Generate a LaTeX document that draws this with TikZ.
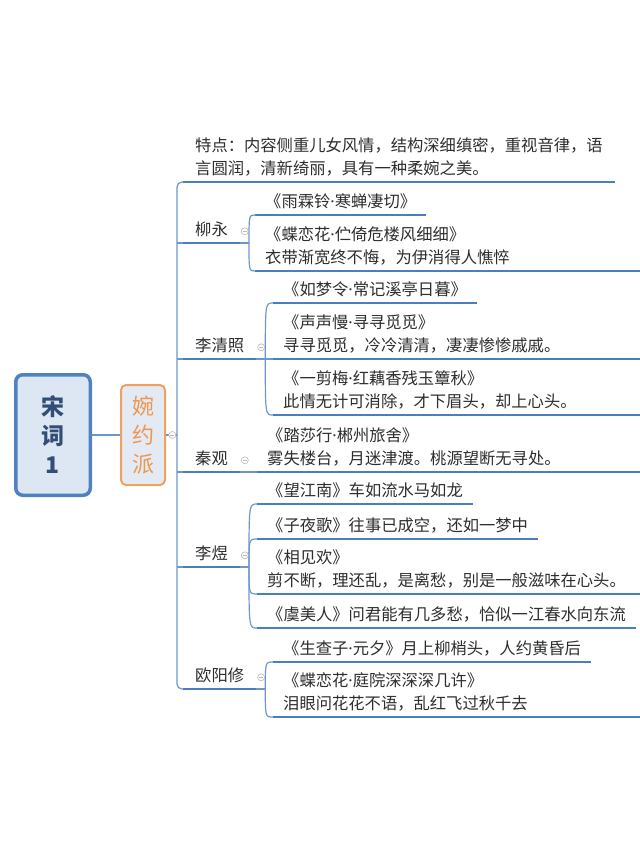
\documentclass[tikz,border=0pt]{standalone}
\usepackage{fontspec}
\setmainfont{Noto Sans CJK SC}
\newfontfamily\latinfont{Noto Sans}
\usetikzlibrary{positioning}
\definecolor{lineblue}{RGB}{74,126,190}
\definecolor{trunkblue}{RGB}{110,150,205}
\definecolor{rootfill}{RGB}{221,231,243}
\definecolor{rootdraw}{RGB}{80,130,195}
\definecolor{roottext}{RGB}{50,78,120}
\definecolor{paifill}{RGB}{228,234,243}
\definecolor{paidraw}{RGB}{240,160,95}
\definecolor{paitext}{RGB}{238,150,80}
\definecolor{txt}{RGB}{45,45,45}
\definecolor{foldgray}{RGB}{185,185,185}
\newcommand\leaffont{\fontsize{16.3}{23}\selectfont}
\newcommand\mdot{{\latinfont ·}}

\begin{document}
\begin{tikzpicture}[x=1pt,y=-1pt,
  root/.style={draw=rootdraw,line width=3.5pt,fill=rootfill,rounded corners=7pt,
               minimum width=74.5pt,minimum height=120.5pt,align=center,text=roottext,
               font=\fontsize{23}{29}\selectfont\bfseries},
  pai/.style={draw=paidraw,line width=2pt,fill=paifill,rounded corners=5pt,
              minimum width=44pt,minimum height=100pt,align=center,text=paitext,
              font=\fontsize{22}{29}\selectfont},
  leaf/.style={anchor=south west,inner xsep=10pt,inner ysep=0pt,align=left,
               text=txt,font=\leaffont,execute at end node=\strut},
  poet/.style={leaf,inner xsep=12pt},
  uline/.style={draw=lineblue,line width=2.4pt},
  trunk/.style={draw=trunkblue,line width=1.2pt},
  conn/.style={draw=trunkblue,line width=1.2pt},
  fold/.style={circle,draw=foldgray,fill=white,line width=0.6pt,inner sep=0pt,minimum size=7pt,
               path picture={\draw[foldgray,line width=0.6pt]
                 ([xshift=-2pt]path picture bounding box.center) -- ([xshift=2pt]path picture bounding box.center);}}]
 \useasboundingbox (0,0) rectangle (640,849);
 \coordinate (spine) at (177,435);
 \coordinate (edge) at (640,0);

 \node[root] (song) at (53,435) {宋\\词\\1};
 \node[pai] (pai) at (143,435) {婉\\约\\派};

 \node[poet] (td) at (183,182) {特点：内容侧重儿女风情，结构深细缜密，重视音律，语\\言圆润，清新绮丽，具有一种柔婉之美。};
 \node[poet] (liu) at (183,243) {柳永};
 \node[poet] (li) at (183,359) {李清照};
 \node[poet] (qin) at (183,472) {秦观};
 \node[poet] (yu) at (183,567) {李煜};
 \node[poet] (ouyang) at (183,689) {欧阳修};

 \node[leaf] (yulin) at (255,215) {《雨霖铃\mdot 寒蝉凄切》};
 \node[leaf] (dielian) at (255,271) {《蝶恋花\mdot 伫倚危楼风细细》\\衣带渐宽终不悔，为伊消得人憔悴};

 \node[leaf] (rumeng) at (273,303) {《如梦令\mdot 常记溪亭日暮》};
 \node[leaf] (shengman) at (273,359) {《声声慢\mdot 寻寻觅觅》\\寻寻觅觅，冷冷清清，凄凄惨惨戚戚。};
 \node[leaf] (yijian) at (273,415) {《一剪梅\mdot 红藕香残玉簟秋》\\此情无计可消除，才下眉头，却上心头。};

 \node[leaf] (tasha) at (257,472) {《踏莎行\mdot 郴州旅舍》\\雾失楼台，月迷津渡。桃源望断无寻处。};

 \node[leaf] (wangjiang) at (257,504) {《望江南》车如流水马如龙};
 \node[leaf] (ziye) at (257,539) {《子夜歌》往事已成空，还如一梦中};
 \node[leaf] (xiangjian) at (257,594) {《相见欢》\\剪不断，理还乱，是离愁，别是一般滋味在心头。};
 \node[leaf] (yumei) at (257,628) {《虞美人》问君能有几多愁，恰似一江春水向东流};

 \node[leaf] (shengcha) at (273,662) {《生查子\mdot 元夕》月上柳梢头，人约黄昏后};
 \node[leaf] (tingyuan) at (273,717) {《蝶恋花\mdot 庭院深深深几许》\\泪眼问花花不语，乱红飞过秋千去};

 \draw[trunk] (song.east) -- (pai.west);
 \draw[trunk] (pai.east) -- (spine);
 \draw[trunk,rounded corners=5pt] (td.south west) -| (spine) |- (ouyang.south west);
 \foreach \n in {liu,li,qin,yu}
   \draw[trunk] (spine |- \n.south west) -- (\n.south west);

 \foreach \n in {td,liu,li,qin,yu,ouyang,yulin,rumeng,wangjiang,ziye,yumei,shengcha}
   \draw[uline] (\n.south west) -- (\n.south east);
 \foreach \n in {dielian,shengman,yijian,tasha,xiangjian,tingyuan}
   \draw[uline] (\n.south west) -- (\n.south west -| edge);

 \coordinate (jliu) at ([xshift=9pt]liu.south east);
 \coordinate (jli) at ([xshift=9pt]li.south east);
 \coordinate (jyu) at ([xshift=9pt]yu.south east);
 \coordinate (jouyang) at ([xshift=9pt]ouyang.south east);
 \draw[conn] (liu.south east) -- (jliu);
 \draw[conn] (li.south east) -- (jli);
 \draw[conn] (yu.south east) -- (jyu);
 \draw[conn] (ouyang.south east) -- (jouyang);
 \draw[conn] (qin.south east) -- (tasha.south west);
 \foreach \c in {yulin,dielian}
   \draw[conn] (jliu) .. controls (jliu |- \c.south west) .. (\c.south west);
 \foreach \c in {rumeng,shengman,yijian}
   \draw[conn] (jli) .. controls (jli |- \c.south west) .. (\c.south west);
 \foreach \c in {wangjiang,ziye,xiangjian,yumei}
   \draw[conn] (jyu) .. controls (jyu |- \c.south west) .. (\c.south west);
 \foreach \c in {shengcha,tingyuan}
   \draw[conn] (jouyang) .. controls (jouyang |- \c.south west) .. (\c.south west);

 \node[fold,right=2.5pt of pai] (fpai) {};
 \node[fold,right=1pt of liu] (fliu) {};
 \node[fold,right=1pt of li] (fli) {};
 \node[fold,right=1pt of qin] (fqin) {};
 \node[fold,right=1pt of yu] (fyu) {};
 \node[fold,right=1pt of ouyang] (fouyang) {};
\end{tikzpicture}
\end{document}
